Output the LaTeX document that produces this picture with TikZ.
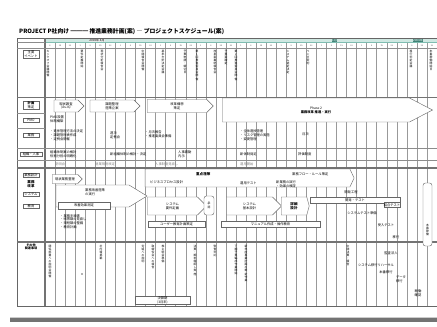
\documentclass[tikz,border=0pt]{standalone}
\usepackage{fontspec}
\setmainfont{Noto Sans CJK JP}
\usetikzlibrary{shapes.symbols, calc}
\definecolor{tealband}{HTML}{CFE8E2}
\definecolor{tealline}{HTML}{7FBDB1}
\definecolor{tealdark}{HTML}{3F8276}
\makeatletter
% stack the characters of a label one above the other
\newcommand\tate[1]{\edef\tate@l{#1}\expandafter\tate@go\expandafter{\tate@l}}
\newcommand\tate@go[1]{\@tfor\tate@c:=#1\do{\tate@c\par}}
\makeatother
\tikzset{
    frm/.style={draw=black!60, line width=0.7pt},
    secline/.style={draw=black!55, line width=0.9pt},
    rowline/.style={draw=black!45, line width=0.35pt},
    colline/.style={draw=black!40, line width=0.3pt},
    sz/.style 2 args={minimum width=#1*0.03cm, minimum height=#2*0.03cm},
    txt/.style={font=\fontsize{2.8}{3.2}\selectfont, inner sep=0pt, align=left},
    lbl/.style={draw=black!60, line width=0.3pt, fill=white, inner sep=0.6pt, align=center,
        font=\fontsize{2.8}{3.2}\selectfont, minimum width=16*0.03cm},
    arw/.style={signal, signal to=east, draw=black!60, line width=0.35pt, fill=white,
        inner sep=0pt, align=center, font=\fontsize{2.8}{3.2}\selectfont},
    box/.style={draw=black!60, line width=0.35pt, fill=white, inner sep=0pt, align=center,
        font=\fontsize{2.8}{3.2}\selectfont},
    tatetxt/.style={font=\fontsize{2.4}{2.6}\selectfont, text width=2.6pt, align=center,
        inner sep=0pt, anchor=north}
}
\begin{document}
\begin{tikzpicture}[x=0.03cm, y=-0.03cm]
    \useasboundingbox (0,0) rectangle (437,326);

    % title
    \node[anchor=west, inner sep=0pt, font=\fontsize{5}{6}\selectfont\bfseries] (title) at (19,32)
        {PROJECT P社向け ━━━ 推進業務計画(案) ― プロジェクトスケジュール(案)};

    % header band and grid
    \fill[tealband] (45,38) rectangle (437,42.5);
    \draw[tealline, line width=0.3pt] (45,38) -- (437,38) (45,42.5) -- (437,42.5);
    \node[fill=tealband!60!black!20, inner sep=0.4pt, font=\fontsize{2.6}{3}\selectfont] (y1) at (97,40.3) {2003年 4月};
    \node[fill=tealdark, text=white, inner sep=0.4pt, font=\fontsize{2.6}{3}\selectfont] (y2) at (334.5,40.3) {1月};
    \node[fill=tealdark, text=white, inner sep=0.4pt, font=\fontsize{2.6}{3}\selectfont] (y3) at (418,40.3) {2004年};
    \foreach \i in {1,...,39} {
        \draw[colline] ({45+\i*10.05},42.5) -- ({45+\i*10.05},306);
        \pgfmathtruncatemacro\d{mod(\i*7,28)+1}
        \node[font=\fontsize{1.8}{2}\selectfont, inner sep=0pt, text=black!70] (wk\i) at ({40+\i*10.05},45.3) {\d};
    }

    % frame and sections
    \draw[frm] (17,38) rectangle (437,306);
    \draw[secline] (45,38) -- (45,306);
    \draw[rowline] (17,42.5) -- (45,42.5);
    \draw[rowline] (17,48) -- (437,48);
    \draw[secline] (17,97.5) -- (437,97.5);
    \draw[rowline] (17,113) -- (45,113) (17,128) -- (45,128);
    \draw[rowline] (17,148) -- (437,148) (17,160) -- (437,160);
    \draw[secline] (17,168) -- (437,168);
    \draw[secline] (17,242) -- (437,242);

    % left labels
    \node[lbl] (lab1) at (31,54.5) {主要\\イベント};
    \node[lbl] (lab2) at (31,105) {\bfseries 計画\\策定};
    \node[lbl] (lab3) at (31,120) {PMO};
    \node[lbl] (lab4) at (31,135) {業務};
    \node[lbl, minimum width=22*0.03cm] (lab5) at (31,154) {組織・人事};
    \node[lbl] (lab6) at (31,175) {業務設計};
    \node[txt, align=center, font=\fontsize{3}{3.4}\selectfont\bfseries] (lab7) at (31,184.5) {業務\\改革};
    \node[lbl] (lab8) at (31,194) {システム};
    \node[lbl] (lab9) at (31,206) {教育};
    \node[txt, align=center, font=\fontsize{2.6}{3}\selectfont\bfseries] (lab10) at (31,247) {その他\\関連事項};

    % milestones
    \foreach \x/\s in {48/キックオフ会議開催, 82/要件定義開始, 102/現状分析報告会,
        143/中間報告会開催, 163/基本方針決定会議, 185/予算申請・締切日,
        197/第1回推進委員会開催, 215/改革案最終報告会, 226/予算案確定,
        236/第2回推進委員会開催, 288/システム選定決定, 308/ベンダ契約,
        411/移行判定会議, 431/本番稼働開始日}
        \node[tatetxt] (ms\x) at (\x,50) {\tate{\s}};

    % planning
    \node[arw, sz={30}{12}] (plan1) at (66,106) {現状調査\\(As-Is)};
    \node[arw, sz={50}{12}] (plan2) at (112,106) {課題整理\\施策立案};
    \node[arw, sz={66}{13}] (plan3) at (177,106) {改革構想\\策定};
    \node[arw, sz={210}{24}, signal pointer angle=55] (phase2) at (316,110)
        {Phase 2\\\bfseries 業務改革 推進・実行};

    \node[txt, anchor=west] (pmo1) at (50,119) {PMO設置\\体制構築};
    \node[txt, anchor=west] (gyo1) at (50,135) {・進捗管理方法の決定\\・課題管理表作成\\・定例会開催};
    \node[txt, anchor=west] (gyo2) at (110,135.5) {週次\\定例会};
    \node[txt, anchor=west] (gyo3) at (145,134) {・月次報告\\・推進委員会準備};
    \node[txt, anchor=west] (gyo4) at (240,135) {・全体進捗管理\\・リスク管理の実施\\・変更管理};
    \node[txt, anchor=west] (gyo5) at (302,134) {月次};
    \node[txt, anchor=west] (org1) at (50,154) {組織体制案の検討\\役割分担の明確化};
    \node[txt, anchor=west] (org2) at (110,154.5) {新組織体制の検討・決定};
    \node[txt, anchor=west] (org3) at (178,154.5) {人事異動\\内示};
    \node[txt, anchor=west] (org4) at (240,154.5) {新体制発足};
    \node[txt, anchor=west] (org5) at (298,154.5) {評価制度};
    \node[txt, anchor=west, text=black!50] (org6) at (55,164.5) {説明会};
    \node[txt, anchor=west, text=black!50] (org7) at (95,164.5) {就業規則改定};
    \node[txt, anchor=west, text=black!50] (org8) at (155,164.5) {人事制度見直し};
    \node[txt, anchor=west, text=black!50] (org9) at (240,164.5) {運用開始};

    % business reform
    \node[arw, sz={30}{9}] (des1) at (65,179) {現状業務整理};
    \node[arw, sz={209}{18}, signal pointer angle=130] (des2) at (247.5,178) {};
    \node[txt, anchor=west] (des3) at (150,182) {ビジネスプロセス設計};
    \node[txt, anchor=west, font=\fontsize{3}{3.4}\selectfont\bfseries] (des4) at (196,174) {重点施策};
    \node[txt, anchor=west] (des5) at (292,174) {業務フロー・ルール策定};
    \node[txt, anchor=west] (des6) at (240,183) {運用テスト};
    \node[txt, anchor=west] (des7) at (276,184) {新業務の試行\\・効果の検証};

    \node[arw, sz={91}{22}, signal pointer angle=63] (ref1) at (92.5,196) {};
    \node[txt, anchor=west] (ref2) at (85,192.5) {業務改善施策\\の実行};
    \node[box, sz={52}{7}] (ref3) at (84,205.5) {改善効果測定};
    \node[txt, anchor=north west] (ref4) at (60,214) {・業務手順書\\・帳票類の見直し\\・規程類の整備\\・教育計画};

    % system
    \node[arw, sz={59}{18}] (sys1) at (172.5,206) {システム\\要件定義};
    \node[box, sz={10}{19}, rounded corners=2pt] (sys2) at (209,205.5) {};
    \node[tatetxt, anchor=center] (sys2t) at (209,205.5) {\tate{承認}};
    \node[arw, sz={55}{18}] (sys3) at (249.5,206) {システム\\基本設計};
    \node[arw, sz={28}{18}, signal pointer angle=150, font=\fontsize{3}{3.4}\selectfont\bfseries] (sys4) at (294,206) {詳細\\設計};
    \node[box, sz={90}{6}] (sys5) at (355,200) {開発・テスト};
    \node[box, sz={14}{5}] (sys6) at (392,205) {結合テスト};
    \node[txt] (sys7) at (351,192) {開発工程};
    \node[txt] (sys8) at (362,213) {システムテスト準備};
    \node[txt] (sys9) at (386,225) {受入テスト};
    \node[txt] (sys10) at (396,237) {移行};
    \node[box, sz={9}{63}, rounded corners=2pt] (live) at (427.5,214.5) {};
    \node[tatetxt, anchor=center] (livet) at (427.5,230) {\tate{本番稼働}};

    % education
    \node[box, sz={57}{6}] (edu1) at (176.5,224) {ユーザー教育計画策定};
    \node[box, sz={99}{6}] (edu2) at (270.5,224) {マニュアル作成・操作教育};

    % other events
    \foreach \x/\s in {50/関係部署への説明会開催, 101/社内報掲載, 143/労組への説明,
        153/取締役会への報告, 163/株主総会準備, 195/決算・期末棚卸し実施,
        215/監査対応, 236/下期予算編成作業開始, 246/新年度事業計画の策定作業,
        348/中間決算・報告}
        \node[tatetxt] (ev\x) at (\x,245) {\tate{\s}};
    \fill[black!60] (82,274) circle (0.8) coordinate (evdot);
    \node[txt] (ev1) at (391,253) {監査法人};
    \node[txt] (ev2) at (376,265) {システム移行リハーサル};
    \node[txt] (ev3) at (386,272) {本番移行};
    \node[txt] (ev4) at (401,279) {データ\\移行};
    \node[txt] (ev5) at (418,293) {稼働\\確認};
    \node[box, sz={55}{8}] (ev6) at (162.5,300.5) {決算期\\(3月末)};

    % page edge
    \fill[black!55] (10,318) rectangle (437,322);
    \fill[black!20] (10,316.5) rectangle (437,318);
\end{tikzpicture}
\end{document}
